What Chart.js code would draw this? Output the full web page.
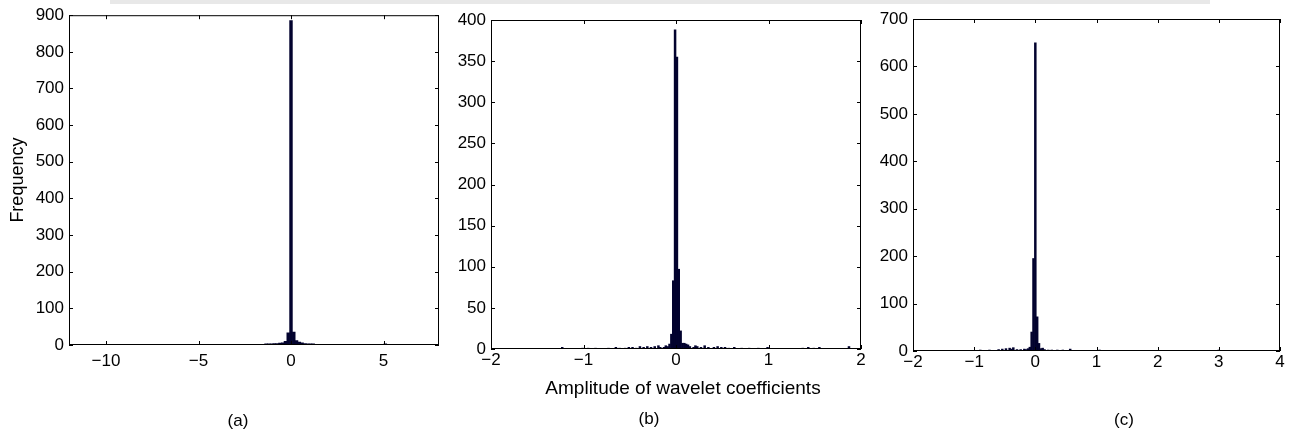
<!DOCTYPE html>
<html lang="en">
<head>
  <meta charset="UTF-8">
  <title>Wavelet coefficient histograms</title>
  <script src="https://cdn.jsdelivr.net/npm/chart.js"></script>
  <style>
    body { margin: 0; background: #fff; font-family: "Liberation Sans", Arial, sans-serif; }
    .stage { position: relative; width: 1299px; height: 434px; overflow: hidden; }
    .panel { position: absolute; top: 0; }
    .lbl { position: absolute; transform: translate(-50%, -50%); color: #000; white-space: nowrap; }
    .band { position: absolute; left: 110px; top: 0; width: 1100px; height: 4px; background: #e8e8e8; }
  </style>
</head>
<body>
  <div class="stage">
    <div class="band"></div>
    <canvas class="panel" id="chartA" width="450" height="434" style="left:0px"></canvas>
    <canvas class="panel" id="chartB" width="420" height="434" style="left:450px"></canvas>
    <canvas class="panel" id="chartC" width="429" height="434" style="left:870px"></canvas>
    <div class="lbl" style="left:683px; top:388px; font-size:19px">Amplitude of wavelet coefficients</div>
    <div class="lbl" style="left:238px; top:421px; font-size:17px">(a)</div>
    <div class="lbl" style="left:649px; top:419px; font-size:17px">(b)</div>
    <div class="lbl" style="left:1124px; top:420px; font-size:17px">(c)</div>
  </div>
  <script>
    // panel (a): bin centres and counts
    const binsA = [-11.1, -10.8, -9.6, -9.0, -6.3, -5.7, -4.8, -3.9, -2.7, -2.1, -1.65, -1.35, -1.2, -1.05, -0.9, -0.75, -0.6, -0.45, -0.3, -0.15, 0, 0.15, 0.3, 0.45, 0.6, 0.75, 0.9, 1.05, 1.2, 1.5, 1.8, 2.1, 2.55, 3.0, 3.45, 3.9, 4.35, 4.8, 5.1, 5.55, 5.85, 6.15]
    const countsA = [2, 2, 1, 2, 1, 2, 1, 1, 2, 1, 2, 3, 3, 3, 4, 4, 5, 6, 10, 33, 885, 35, 12, 8, 6, 4, 3, 3, 3, 2, 2, 2, 1, 2, 1, 2, 1, 2, 3, 2, 1, 2]
    const xTicksA = [-10, -5, 0, 5]

    // panel (b)
    const binsB = [-1.23, -1.01, -0.95, -0.87, -0.73, -0.65, -0.61, -0.55, -0.51, -0.47, -0.43, -0.39, -0.35, -0.31, -0.27, -0.23, -0.19, -0.17, -0.13, -0.11, -0.09, -0.07, -0.05, -0.03, -0.01, 0.01, 0.03, 0.05, 0.07, 0.09, 0.11, 0.13, 0.15, 0.19, 0.21, 0.23, 0.27, 0.31, 0.35, 0.41, 0.45, 0.49, 0.53, 0.57, 0.63, 0.71, 0.79, 0.89, 0.99, 1.37, 1.43, 1.49, 1.55, 1.87]
    const countsB = [2, 1, 1, 1, 1, 2, 1, 1, 2, 2, 1, 3, 2, 3, 2, 3, 4, 2, 2, 4, 3, 6, 18, 83, 388, 355, 97, 22, 7, 7, 6, 5, 3, 2, 4, 3, 2, 4, 2, 2, 3, 2, 2, 1, 2, 1, 1, 1, 2, 1, 2, 1, 2, 3]
    const xTicksB = [-2, -1, 0, 1, 2]

    // panel (c)
    const binsC = [-1.89, -1.5, -1.2, -0.9, -0.75, -0.6, -0.54, -0.48, -0.42, -0.39, -0.36, -0.3, -0.24, -0.18, -0.15, -0.12, -0.09, -0.06, -0.03, 0, 0.03, 0.06, 0.09, 0.12, 0.15, 0.21, 0.27, 0.36, 0.45, 0.57, 0.72, 0.9, 1.05, 1.26, 1.5, 1.74, 2.01, 2.25, 2.49, 2.7, 2.91, 3.0]
    const countsC = [1, 1, 1, 2, 2, 3, 4, 5, 6, 4, 7, 3, 3, 4, 3, 5, 8, 40, 195, 650, 72, 16, 5, 6, 3, 2, 2, 2, 2, 4, 1, 1, 2, 1, 1, 1, 1, 1, 1, 1, 1, 2]
    const xTicksC = [-2, -1, 0, 1, 2, 3, 4]

    const tickFont = { family: '"Liberation Sans", Arial, sans-serif', size: 17 }

    // matlab style box with inward ticks on all four sides
    const boxPlugin = {
      id: 'box',
      afterDatasetsDraw(chart) {
        const { ctx, chartArea: a, scales: { x, y } } = chart
        ctx.save()
        ctx.strokeStyle = '#000'
        ctx.lineWidth = 1
        ctx.beginPath()
        x.ticks.forEach(t => {
          const px = Math.round(x.getPixelForValue(t.value)) + 0.5
          ctx.moveTo(px, a.bottom); ctx.lineTo(px, a.bottom - 4)
          ctx.moveTo(px, a.top); ctx.lineTo(px, a.top + 4)
        })
        y.ticks.forEach(t => {
          const py = Math.round(y.getPixelForValue(t.value)) + 0.5
          ctx.moveTo(a.left, py); ctx.lineTo(a.left + 4, py)
          ctx.moveTo(a.right, py); ctx.lineTo(a.right - 4, py)
        })
        ctx.stroke()
        ctx.strokeRect(a.left + 0.5, a.top + 0.5, a.width - 1, a.height - 1)
        ctx.restore()
      }
    }

    function makePanel(id, bins, counts, xTicks, o) {
      return new Chart(document.getElementById(id), {
        type: 'bar',
        data: {
          datasets: [{
            data: bins.map((b, i) => ({ x: b, y: counts[i] })),
            backgroundColor: '#02022e',
            borderWidth: 0,
            barPercentage: 1,
            categoryPercentage: 1
          }]
        },
        options: {
          responsive: false,
          animation: false,
          layout: { padding: { top: o.top, right: o.right, bottom: 0, left: 0 } },
          plugins: { legend: { display: false }, tooltip: { enabled: false } },
          scales: {
            x: {
              type: 'linear', min: o.xmin, max: o.xmax, offset: false,
              grid: { display: false, drawTicks: false }, border: { display: false },
              afterBuildTicks: s => { s.ticks = xTicks.map(v => ({ value: v })) },
              afterFit: s => { s.height = o.xh },
              ticks: {
                padding: o.xpad, font: tickFont, color: '#000', maxRotation: 0, autoSkip: false,
                callback: v => String(v).replace('-', '\u2212')
              }
            },
            y: {
              min: 0, max: o.ymax,
              grid: { display: false, drawTicks: false }, border: { display: false },
              afterFit: s => { s.width = o.yw },
              ticks: { stepSize: o.step, padding: 5, font: tickFont, color: '#000' },
              title: {
                display: !!o.ytitle, text: o.ytitle || '', color: '#000',
                font: { family: '"Liberation Sans", Arial, sans-serif', size: 18 },
                padding: { top: 7, bottom: 0 }
              }
            }
          }
        },
        plugins: [boxPlugin]
      })
    }

    makePanel('chartA', binsA, countsA, xTicksA,
      { xmin: -12, xmax: 8, ymax: 900, step: 100, top: 15, right: 11, xh: 89, yw: 69, xpad: 6, ytitle: 'Frequency' })
    makePanel('chartB', binsB, countsB, xTicksB,
      { xmin: -2, xmax: 2, ymax: 400, step: 50, top: 20, right: 9, xh: 85, yw: 41, xpad: 1 })
    makePanel('chartC', binsC, countsC, xTicksC,
      { xmin: -2, xmax: 4, ymax: 700, step: 100, top: 19, right: 19, xh: 83, yw: 43, xpad: 1 })
  </script>
</body>
</html>
